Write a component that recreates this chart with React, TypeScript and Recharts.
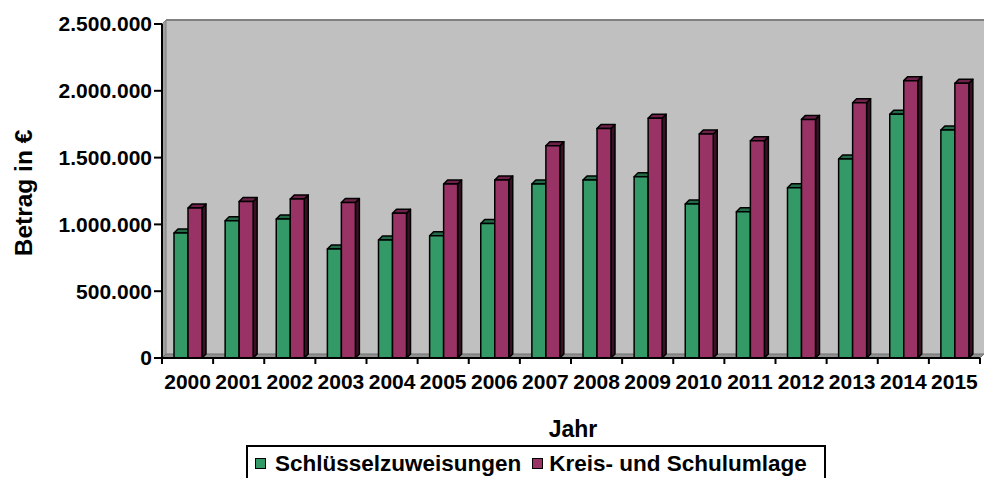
import { BarChart, Bar, XAxis, YAxis } from 'recharts';

const years = ['2000', '2001', '2002', '2003', '2004', '2005', '2006', '2007', '2008', '2009', '2010', '2011', '2012', '2013', '2014', '2015'];
const schluesselzuweisungen = [935000, 1027000, 1040000, 816000, 883000, 915000, 1007000, 1302000, 1332000, 1357000, 1153000, 1095000, 1275000, 1490000, 1824000, 1706000];
const kreisSchulumlage = [1122000, 1172000, 1190000, 1164000, 1083000, 1302000, 1332000, 1589000, 1718000, 1794000, 1677000, 1626000, 1786000, 1911000, 2076000, 2056000];
const yTicks = [0, 500000, 1000000, 1500000, 2000000, 2500000];

const data = years.map((year, i) => ({
    year,
    schluessel: schluesselzuweisungen[i],
    umlage: kreisSchulumlage[i]
}));

const W = 984;
const H = 478;
const LEFT = 162;
const TOP = 24;
const RIGHT = 4;
const BOTTOM = 120;
const DEPTH = 4;
const plotW = W - LEFT - RIGHT;
const plotBottom = H - BOTTOM;
const band = plotW / years.length;
const FONT = '"Liberation Sans", Arial, sans-serif';

const GREEN = '#339966';
const PURPLE = '#993366';

const fmt = (v: number) => String(v).replace(/\B(?=(\d{3})+(?!\d))/g, '.');

function Bar3D(props: any) {
    const { x, y, width, height, fill, top, side } = props;
    if (!height || height <= 0) return null;
    const d = DEPTH;
    return (
        <g stroke="#000" strokeWidth={1.5} strokeLinejoin="round">
            <polygon points={`${x + width},${y} ${x + width + d},${y - d} ${x + width + d},${y + height - d} ${x + width},${y + height}`} fill={side} />
            <polygon points={`${x},${y} ${x + d},${y - d} ${x + width + d},${y - d} ${x + width},${y}`} fill={top} />
            <rect x={x} y={y} width={width} height={height} fill={fill} />
        </g>
    );
}

function YearTick(props: any) {
    const { x, y, payload, index } = props;
    const left = x - band / 2;
    return (
        <g>
            <line x1={left} y1={plotBottom} x2={left} y2={plotBottom + 6} stroke="#000" strokeWidth={2} />
            {index === years.length - 1 && (
                <line x1={x + band / 2} y1={plotBottom} x2={x + band / 2} y2={plotBottom + 6} stroke="#000" strokeWidth={2} />
            )}
            <text x={x} y={y + 23} textAnchor="middle" fontFamily={FONT} fontWeight="bold" fontSize={21} fill="#000">
                {payload.value}
            </text>
        </g>
    );
}

export default function App() {
    return (
        <div style={{ position: 'absolute', left: 0, top: 0, width: W, height: H, background: '#fff' }}>
            {/* 3D walls behind the chart */}
            <svg width={W} height={H} style={{ position: 'absolute', left: 0, top: 0 }}>
                <rect x={LEFT + DEPTH} y={TOP - DEPTH} width={plotW} height={plotBottom - TOP} fill="#C0C0C0" />
                <line x1={LEFT + DEPTH} y1={TOP - DEPTH} x2={W} y2={TOP - DEPTH} stroke="#808080" strokeWidth={2} />
                <polygon points={`${LEFT},${TOP} ${LEFT + DEPTH},${TOP - DEPTH} ${LEFT + DEPTH},${plotBottom - DEPTH} ${LEFT},${plotBottom}`} fill="#A0A0A0" stroke="#808080" strokeWidth={1} />
                <polygon points={`${LEFT},${plotBottom} ${LEFT + DEPTH},${plotBottom - DEPTH} ${W},${plotBottom - DEPTH} ${W - DEPTH},${plotBottom}`} fill="#909090" stroke="#707070" strokeWidth={1} />
            </svg>
            <div style={{ position: 'absolute', left: 0, top: 0 }}>
                <BarChart
                    width={W}
                    height={H}
                    data={data}
                    margin={{ top: TOP, right: RIGHT, left: 0, bottom: 0 }}
                    barGap={0}
                    barSize={14}
                >
                    <XAxis
                        dataKey="year"
                        height={BOTTOM}
                        axisLine={{ stroke: '#000', strokeWidth: 2 }}
                        tickLine={false}
                        interval={0}
                        tick={<YearTick />}
                    />
                    <YAxis
                        width={LEFT}
                        domain={[0, 2500000]}
                        ticks={yTicks}
                        interval={0}
                        tickFormatter={fmt}
                        axisLine={{ stroke: '#000', strokeWidth: 2 }}
                        tickLine={{ stroke: '#000', strokeWidth: 2 }}
                        tickSize={8}
                        tickMargin={2}
                        tick={{ fontFamily: FONT, fontWeight: 'bold', fontSize: 21, fill: '#000' }}
                    />
                    <Bar dataKey="schluessel" fill={GREEN} isAnimationActive={false}
                        shape={(p: any) => <Bar3D {...p} fill={GREEN} top="#226b46" side="#123d28" />} />
                    <Bar dataKey="umlage" fill={PURPLE} isAnimationActive={false}
                        shape={(p: any) => <Bar3D {...p} fill={PURPLE} top="#6e2249" side="#3a1024" />} />
                </BarChart>
            </div>
            <svg width={W} height={H} style={{ position: 'absolute', left: 0, top: 0, pointerEvents: 'none' }}>
                <text x={0} y={0} transform={`translate(32, ${(TOP + plotBottom) / 2 + 2}) rotate(-90)`} textAnchor="middle"
                    fontFamily={FONT} fontWeight="bold" fontSize={24.5} fill="#000">Betrag in €</text>
                <text x={LEFT + plotW / 2 + 2} y={437} textAnchor="middle" fontFamily={FONT} fontWeight="bold" fontSize={23} fill="#000">Jahr</text>
            </svg>
            <div style={{
                position: 'absolute', left: 246, top: 445, width: 580, height: 40,
                border: '2px solid #000', boxSizing: 'border-box', fontFamily: FONT, fontWeight: 'bold',
                fontSize: 22.5, color: '#000', display: 'flex', alignItems: 'flex-start', paddingTop: 4, paddingLeft: 7, whiteSpace: 'nowrap'
            }}>
                <span style={{ display: 'inline-block', width: 9, height: 9, background: GREEN, border: '1.5px solid #000', marginTop: 7, marginRight: 9 }} />
                <span>Schlüsselzuweisungen</span>
                <span style={{ display: 'inline-block', width: 9, height: 9, background: PURPLE, border: '1.5px solid #000', marginTop: 7, marginRight: 6, marginLeft: 11 }} />
                <span>Kreis- und Schulumlage</span>
            </div>
        </div>
    );
}
